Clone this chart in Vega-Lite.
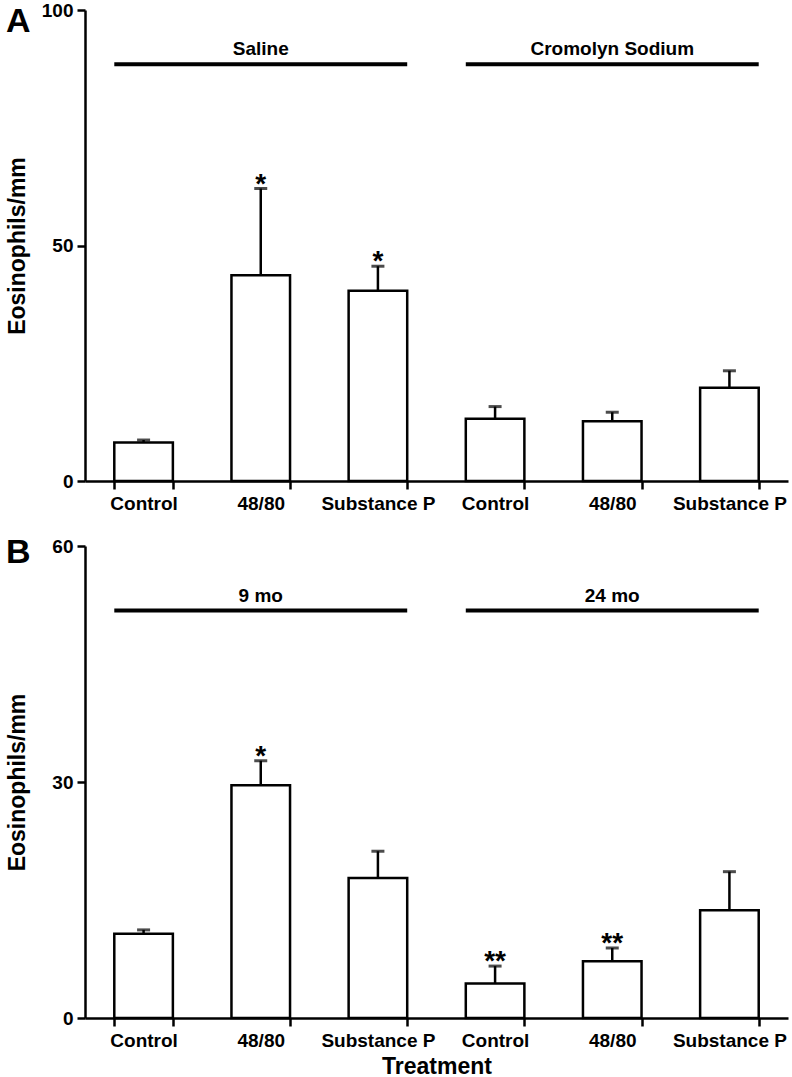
{
  "$schema": "https://vega.github.io/schema/vega-lite/v6.json",
  "background": "white",
  "padding": {"left": 6, "top": 1, "right": 4, "bottom": 0},
  "spacing": 23,
  "config": {
    "view": {"stroke": null},
    "font": "Liberation Sans",
    "axis": {
      "domainColor": "black", "domainWidth": 2.5, "tickColor": "black", "tickWidth": 2.5, "tickSize": 8,
      "labelColor": "black", "labelFont": "Liberation Sans", "labelFontWeight": "bold", "labelFontSize": 19,
      "titleColor": "black", "titleFont": "Liberation Sans", "titleFontWeight": "bold", "grid": false
    },
    "title": {"font": "Liberation Sans", "fontWeight": "bold", "fontSize": 34, "color": "black"}
  },
  "vconcat": [
    {
      "title": {"text": "A", "anchor": "start", "frame": "bounds", "orient": "top", "baseline": "top", "offset": -38},
      "width": 703,
      "height": 471,
      "data": {"values": [
        {"key": "Saline|Control", "mean": 8.2, "top": 8.7, "star": ""},
        {"key": "Saline|48/80", "mean": 43.7, "top": 62.1, "star": "*"},
        {"key": "Saline|Substance P", "mean": 40.4, "top": 45.6, "star": "*"},
        {"key": "Cromolyn|Control", "mean": 13.2, "top": 15.8, "star": ""},
        {"key": "Cromolyn|48/80", "mean": 12.7, "top": 14.6, "star": ""},
        {"key": "Cromolyn|Substance P", "mean": 19.8, "top": 23.4, "star": ""}
      ]},
      "layer": [
        {
          "mark": {"type": "bar", "fill": "white", "stroke": "black", "strokeWidth": 2.5},
          "encoding": {
            "x": {"field": "key", "type": "nominal",
              "scale": {"domain": ["Saline|Control", "Saline|48/80", "Saline|Substance P", "Cromolyn|Control", "Cromolyn|48/80", "Cromolyn|Substance P"], "paddingInner": 0.5, "paddingOuter": 0.25},
              "axis": {"title": null, "labelAngle": 0, "tickBand": "extent", "labelPadding": 5, "labelExpr": "split(datum.value, '|')[1]"}},
            "y": {"field": "mean", "type": "quantitative",
              "scale": {"domain": [0, 100], "nice": false},
              "axis": {"values": [0, 50, 100], "title": "Eosinophils/mm", "titleFontSize": 23, "titlePadding": 16, "minExtent": 40, "maxExtent": 40, "labelPadding": 4}}
          }
        },
        {
          "mark": {"type": "rule", "color": "black", "strokeWidth": 2.5},
          "encoding": {
            "x": {"field": "key", "type": "nominal"},
            "y": {"field": "mean", "type": "quantitative"},
            "y2": {"field": "top"}
          }
        },
        {
          "mark": {"type": "tick", "color": "black", "size": 13, "thickness": 3},
          "encoding": {
            "x": {"field": "key", "type": "nominal"},
            "y": {"field": "top", "type": "quantitative"}
          }
        },
        {
          "transform": [{"filter": "datum.star != ''"}],
          "mark": {"type": "text", "fontSize": 28, "fontWeight": "bold", "color": "black", "baseline": "alphabetic", "dy": 4},
          "encoding": {
            "x": {"field": "key", "type": "nominal"},
            "y": {"field": "top", "type": "quantitative"},
            "text": {"field": "star"}
          }
        },
        {
          "data": {"values": [
            {"group": "Saline", "start": "Saline|Control", "mid": "Saline|48/80", "end": "Saline|Substance P", "level": 88.5},
            {"group": "Cromolyn Sodium", "start": "Cromolyn|Control", "mid": "Cromolyn|48/80", "end": "Cromolyn|Substance P", "level": 88.5}
          ]},
          "layer": [
            {
              "mark": {"type": "rule", "color": "black", "strokeWidth": 4},
              "encoding": {
                "x": {"field": "start", "type": "nominal", "bandPosition": 0},
                "x2": {"field": "end", "bandPosition": 1},
                "y": {"field": "level", "type": "quantitative"}
              }
            },
            {
              "mark": {"type": "text", "fontSize": 19, "fontWeight": "bold", "color": "black", "baseline": "alphabetic", "dy": -9},
              "encoding": {
                "x": {"field": "mid", "type": "nominal"},
                "y": {"field": "level", "type": "quantitative"},
                "text": {"field": "group"}
              }
            }
          ]
        }
      ]
    },
    {
      "title": {"text": "B", "anchor": "start", "frame": "bounds", "orient": "top", "baseline": "top", "offset": -33},
      "width": 703,
      "height": 472,
      "data": {"values": [
        {"key": "9 mo|Control", "mean": 10.7, "top": 11.2, "star": ""},
        {"key": "9 mo|48/80", "mean": 29.6, "top": 32.7, "star": "*"},
        {"key": "9 mo|Substance P", "mean": 17.8, "top": 21.2, "star": ""},
        {"key": "24 mo|Control", "mean": 4.4, "top": 6.6, "star": "**"},
        {"key": "24 mo|48/80", "mean": 7.2, "top": 8.9, "star": "**"},
        {"key": "24 mo|Substance P", "mean": 13.7, "top": 18.6, "star": ""}
      ]},
      "layer": [
        {
          "mark": {"type": "bar", "fill": "white", "stroke": "black", "strokeWidth": 2.5},
          "encoding": {
            "x": {"field": "key", "type": "nominal",
              "scale": {"domain": ["9 mo|Control", "9 mo|48/80", "9 mo|Substance P", "24 mo|Control", "24 mo|48/80", "24 mo|Substance P"], "paddingInner": 0.5, "paddingOuter": 0.25},
              "axis": {"title": "Treatment", "titleFontSize": 23, "titlePadding": 5, "labelAngle": 0, "tickBand": "extent", "labelPadding": 5, "labelExpr": "split(datum.value, '|')[1]"}},
            "y": {"field": "mean", "type": "quantitative",
              "scale": {"domain": [0, 60], "nice": false},
              "axis": {"values": [0, 30, 60], "title": "Eosinophils/mm", "titleFontSize": 23, "titlePadding": 16, "minExtent": 40, "maxExtent": 40, "labelPadding": 4}}
          }
        },
        {
          "mark": {"type": "rule", "color": "black", "strokeWidth": 2.5},
          "encoding": {
            "x": {"field": "key", "type": "nominal"},
            "y": {"field": "mean", "type": "quantitative"},
            "y2": {"field": "top"}
          }
        },
        {
          "mark": {"type": "tick", "color": "black", "size": 13, "thickness": 3},
          "encoding": {
            "x": {"field": "key", "type": "nominal"},
            "y": {"field": "top", "type": "quantitative"}
          }
        },
        {
          "transform": [{"filter": "datum.star != ''"}],
          "mark": {"type": "text", "fontSize": 28, "fontWeight": "bold", "color": "black", "baseline": "alphabetic", "dy": 4},
          "encoding": {
            "x": {"field": "key", "type": "nominal"},
            "y": {"field": "top", "type": "quantitative"},
            "text": {"field": "star"}
          }
        },
        {
          "data": {"values": [
            {"group": "9 mo", "start": "9 mo|Control", "mid": "9 mo|48/80", "end": "9 mo|Substance P", "level": 51.8},
            {"group": "24 mo", "start": "24 mo|Control", "mid": "24 mo|48/80", "end": "24 mo|Substance P", "level": 51.8}
          ]},
          "layer": [
            {
              "mark": {"type": "rule", "color": "black", "strokeWidth": 4},
              "encoding": {
                "x": {"field": "start", "type": "nominal", "bandPosition": 0},
                "x2": {"field": "end", "bandPosition": 1},
                "y": {"field": "level", "type": "quantitative"}
              }
            },
            {
              "mark": {"type": "text", "fontSize": 19, "fontWeight": "bold", "color": "black", "baseline": "alphabetic", "dy": -9},
              "encoding": {
                "x": {"field": "mid", "type": "nominal"},
                "y": {"field": "level", "type": "quantitative"},
                "text": {"field": "group"}
              }
            }
          ]
        }
      ]
    }
  ]
}
